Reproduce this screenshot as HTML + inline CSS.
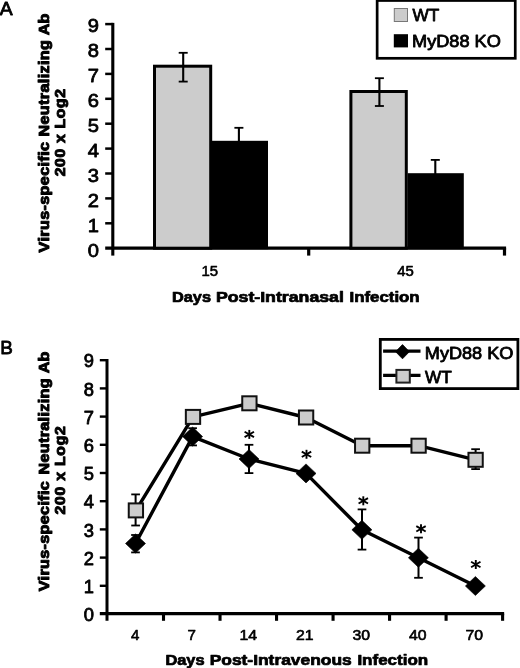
<!DOCTYPE html>
<html><head><meta charset="utf-8"><title>Figure</title>
<style>html,body{margin:0;padding:0;background:#fff;}body{width:520px;height:668px;overflow:hidden;}svg{display:block;will-change:transform;}text{font-family:"Liberation Sans",sans-serif;fill:#000;stroke:#000;stroke-linejoin:round;}</style>
</head><body>
<svg width="520" height="668" viewBox="0 0 520 668">
<rect x="0" y="0" width="520" height="668" fill="#fff"/>
<text x="-0.30" y="14.60" font-size="18.8" text-anchor="start" stroke-width="0.8" textLength="12.90" lengthAdjust="spacingAndGlyphs">A</text>
<g stroke="#000" stroke-width="2.5" fill="none" stroke-linecap="butt">
<line x1="112.80" y1="22.85" x2="112.80" y2="255.60" stroke-width="3.1"/>
<line x1="105.20" y1="248.05" x2="506.10" y2="248.05" stroke-width="3.3"/>
<line x1="105.20" y1="223.30" x2="112.80" y2="223.30"/>
<line x1="105.20" y1="198.40" x2="112.80" y2="198.40"/>
<line x1="105.20" y1="173.50" x2="112.80" y2="173.50"/>
<line x1="105.20" y1="148.60" x2="112.80" y2="148.60"/>
<line x1="105.20" y1="123.70" x2="112.80" y2="123.70"/>
<line x1="105.20" y1="98.80" x2="112.80" y2="98.80"/>
<line x1="105.20" y1="73.90" x2="112.80" y2="73.90"/>
<line x1="105.20" y1="49.00" x2="112.80" y2="49.00"/>
<line x1="105.20" y1="24.10" x2="112.80" y2="24.10"/>
<line x1="308.70" y1="248.05" x2="308.70" y2="255.60" stroke-width="3.2"/>
<line x1="504.50" y1="248.05" x2="504.50" y2="255.60" stroke-width="3.2"/>
</g>
<text x="98.90" y="256.50" font-size="19.2" text-anchor="end" stroke-width="0.8" textLength="11.20" lengthAdjust="spacingAndGlyphs">0</text>
<text x="98.90" y="231.60" font-size="19.2" text-anchor="end" stroke-width="0.8" textLength="11.20" lengthAdjust="spacingAndGlyphs">1</text>
<text x="98.90" y="206.70" font-size="19.2" text-anchor="end" stroke-width="0.8" textLength="11.20" lengthAdjust="spacingAndGlyphs">2</text>
<text x="98.90" y="181.80" font-size="19.2" text-anchor="end" stroke-width="0.8" textLength="11.20" lengthAdjust="spacingAndGlyphs">3</text>
<text x="98.90" y="156.90" font-size="19.2" text-anchor="end" stroke-width="0.8" textLength="11.20" lengthAdjust="spacingAndGlyphs">4</text>
<text x="98.90" y="132.00" font-size="19.2" text-anchor="end" stroke-width="0.8" textLength="11.20" lengthAdjust="spacingAndGlyphs">5</text>
<text x="98.90" y="107.10" font-size="19.2" text-anchor="end" stroke-width="0.8" textLength="11.20" lengthAdjust="spacingAndGlyphs">6</text>
<text x="98.90" y="82.20" font-size="19.2" text-anchor="end" stroke-width="0.8" textLength="11.20" lengthAdjust="spacingAndGlyphs">7</text>
<text x="98.90" y="57.30" font-size="19.2" text-anchor="end" stroke-width="0.8" textLength="11.20" lengthAdjust="spacingAndGlyphs">8</text>
<text x="98.90" y="32.40" font-size="19.2" text-anchor="end" stroke-width="0.8" textLength="11.20" lengthAdjust="spacingAndGlyphs">9</text>
<rect x="154.50" y="66.20" width="56.20" height="182.00" fill="#cccccc" stroke="#000" stroke-width="3"/>
<rect x="212.00" y="140.80" width="56.00" height="108.40" fill="#000"/>
<rect x="350.90" y="91.50" width="55.40" height="156.70" fill="#cccccc" stroke="#000" stroke-width="3"/>
<rect x="407.60" y="173.20" width="56.20" height="76.00" fill="#000"/>
<g stroke="#000" stroke-width="2.1" fill="none"><line x1="183.20" y1="52.80" x2="183.20" y2="81.60"/>
<line x1="178.70" y1="52.80" x2="187.70" y2="52.80" stroke-width="1.8"/>
<line x1="178.70" y1="81.60" x2="187.70" y2="81.60" stroke-width="1.8"/></g>
<g stroke="#000" stroke-width="2.1" fill="none"><line x1="238.90" y1="127.80" x2="238.90" y2="142.00"/>
<line x1="234.40" y1="127.80" x2="243.40" y2="127.80" stroke-width="1.8"/></g>
<g stroke="#000" stroke-width="2.1" fill="none"><line x1="379.40" y1="78.20" x2="379.40" y2="106.00"/>
<line x1="374.90" y1="78.20" x2="383.90" y2="78.20" stroke-width="1.8"/>
<line x1="374.90" y1="106.00" x2="383.90" y2="106.00" stroke-width="1.8"/></g>
<g stroke="#000" stroke-width="2.1" fill="none"><line x1="435.30" y1="159.90" x2="435.30" y2="175.00"/>
<line x1="430.80" y1="159.90" x2="439.80" y2="159.90" stroke-width="1.8"/></g>
<text x="209.70" y="275.60" font-size="14.6" text-anchor="middle" stroke-width="0.6" textLength="16.60" lengthAdjust="spacingAndGlyphs">15</text>
<text x="405.50" y="275.60" font-size="14.6" text-anchor="middle" stroke-width="0.6" textLength="16.60" lengthAdjust="spacingAndGlyphs">45</text>
<text x="172.00" y="302.00" font-size="14.2" text-anchor="start" stroke-width="0.7" font-weight="bold" textLength="39.00" lengthAdjust="spacingAndGlyphs">Days</text>
<text x="215.90" y="302.00" font-size="14.2" text-anchor="start" stroke-width="0.7" font-weight="bold" textLength="128.00" lengthAdjust="spacingAndGlyphs">Post-Intranasal</text>
<text x="349.60" y="302.00" font-size="14.2" text-anchor="start" stroke-width="0.7" font-weight="bold" textLength="70.00" lengthAdjust="spacingAndGlyphs">Infection</text>
<g transform="translate(48.70,252.40) rotate(-90) scale(1.1,1)">
<text x="0" y="0" font-size="14.7" font-weight="bold" stroke-width="0.95" textLength="100.36" lengthAdjust="spacing">Virus-specific</text>
</g>
<g transform="translate(48.70,136.60) rotate(-90) scale(1.1,1)">
<text x="0" y="0" font-size="14.7" font-weight="bold" stroke-width="0.95" textLength="87.82" lengthAdjust="spacing">Neutralizing</text>
</g>
<g transform="translate(48.70,35.20) rotate(-90) scale(1.1,1)">
<text x="0" y="0" font-size="14.7" font-weight="bold" stroke-width="0.95" textLength="19.64" lengthAdjust="spacing">Ab</text>
</g>
<g transform="translate(65.30,176.30) rotate(-90) scale(1.1,1)">
<text x="0" y="0" font-size="14.3" font-weight="bold" stroke-width="0.95" textLength="79.45" lengthAdjust="spacing">200 x Log2</text>
</g>
<rect x="377.15" y="0.5" width="138.1" height="57.8" fill="#fff" stroke="#000" stroke-width="2.7"/>
<rect x="394.3" y="8.5" width="13.2" height="13" fill="#cccccc" stroke="#777" stroke-width="1"/>
<rect x="393.8" y="34.2" width="14.2" height="13.2" fill="#000"/>
<text x="412.60" y="21.40" font-size="16.5" text-anchor="start" stroke-width="0.8" textLength="26.80" lengthAdjust="spacingAndGlyphs">WT</text>
<text x="412.00" y="46.80" font-size="16.5" text-anchor="start" stroke-width="0.8" textLength="88.80" lengthAdjust="spacingAndGlyphs">MyD88 KO</text>
<text x="0.20" y="354.10" font-size="18.9" text-anchor="start" stroke-width="0.8" textLength="12.60" lengthAdjust="spacingAndGlyphs">B</text>
<g stroke="#000" stroke-width="2.4" fill="none" stroke-linecap="butt">
<line x1="107.00" y1="359.00" x2="107.00" y2="620.80" stroke-width="3"/>
<line x1="99.80" y1="613.60" x2="504.15" y2="613.60" stroke-width="3.4"/>
<line x1="99.80" y1="585.80" x2="107.00" y2="585.80"/>
<line x1="99.80" y1="557.60" x2="107.00" y2="557.60"/>
<line x1="99.80" y1="529.40" x2="107.00" y2="529.40"/>
<line x1="99.80" y1="501.20" x2="107.00" y2="501.20"/>
<line x1="99.80" y1="473.00" x2="107.00" y2="473.00"/>
<line x1="99.80" y1="444.80" x2="107.00" y2="444.80"/>
<line x1="99.80" y1="416.60" x2="107.00" y2="416.60"/>
<line x1="99.80" y1="388.40" x2="107.00" y2="388.40"/>
<line x1="99.80" y1="360.20" x2="107.00" y2="360.20"/>
<line x1="163.51" y1="613.60" x2="163.51" y2="620.80" stroke-width="3.1"/>
<line x1="220.03" y1="613.60" x2="220.03" y2="620.80" stroke-width="3.1"/>
<line x1="276.54" y1="613.60" x2="276.54" y2="620.80" stroke-width="3.1"/>
<line x1="333.06" y1="613.60" x2="333.06" y2="620.80" stroke-width="3.1"/>
<line x1="389.57" y1="613.60" x2="389.57" y2="620.80" stroke-width="3.1"/>
<line x1="446.09" y1="613.60" x2="446.09" y2="620.80" stroke-width="3.1"/>
<line x1="502.60" y1="613.60" x2="502.60" y2="620.80" stroke-width="3.1"/>
</g>
<text x="94.00" y="621.20" font-size="18" text-anchor="end" stroke-width="0.8" textLength="10.20" lengthAdjust="spacingAndGlyphs">0</text>
<text x="94.00" y="593.00" font-size="18" text-anchor="end" stroke-width="0.8" textLength="10.20" lengthAdjust="spacingAndGlyphs">1</text>
<text x="94.00" y="564.80" font-size="18" text-anchor="end" stroke-width="0.8" textLength="10.20" lengthAdjust="spacingAndGlyphs">2</text>
<text x="94.00" y="536.60" font-size="18" text-anchor="end" stroke-width="0.8" textLength="10.20" lengthAdjust="spacingAndGlyphs">3</text>
<text x="94.00" y="508.40" font-size="18" text-anchor="end" stroke-width="0.8" textLength="10.20" lengthAdjust="spacingAndGlyphs">4</text>
<text x="94.00" y="480.20" font-size="18" text-anchor="end" stroke-width="0.8" textLength="10.20" lengthAdjust="spacingAndGlyphs">5</text>
<text x="94.00" y="452.00" font-size="18" text-anchor="end" stroke-width="0.8" textLength="10.20" lengthAdjust="spacingAndGlyphs">6</text>
<text x="94.00" y="423.80" font-size="18" text-anchor="end" stroke-width="0.8" textLength="10.20" lengthAdjust="spacingAndGlyphs">7</text>
<text x="94.00" y="395.60" font-size="18" text-anchor="end" stroke-width="0.8" textLength="10.20" lengthAdjust="spacingAndGlyphs">8</text>
<text x="94.00" y="367.40" font-size="18" text-anchor="end" stroke-width="0.8" textLength="10.20" lengthAdjust="spacingAndGlyphs">9</text>
<text x="135.26" y="639.90" font-size="14.4" text-anchor="middle" stroke-width="0.6" textLength="8.40" lengthAdjust="spacingAndGlyphs">4</text>
<text x="191.77" y="639.90" font-size="14.4" text-anchor="middle" stroke-width="0.6" textLength="8.40" lengthAdjust="spacingAndGlyphs">7</text>
<text x="248.29" y="639.90" font-size="14.4" text-anchor="middle" stroke-width="0.6" textLength="17.60" lengthAdjust="spacingAndGlyphs">14</text>
<text x="304.80" y="639.90" font-size="14.4" text-anchor="middle" stroke-width="0.6" textLength="17.60" lengthAdjust="spacingAndGlyphs">21</text>
<text x="361.31" y="639.90" font-size="14.4" text-anchor="middle" stroke-width="0.6" textLength="17.60" lengthAdjust="spacingAndGlyphs">30</text>
<text x="417.83" y="639.90" font-size="14.4" text-anchor="middle" stroke-width="0.6" textLength="17.60" lengthAdjust="spacingAndGlyphs">40</text>
<text x="474.34" y="639.90" font-size="14.4" text-anchor="middle" stroke-width="0.6" textLength="17.60" lengthAdjust="spacingAndGlyphs">70</text>
<text x="165.40" y="665.30" font-size="14.3" text-anchor="start" stroke-width="0.7" font-weight="bold" textLength="39.20" lengthAdjust="spacingAndGlyphs">Days</text>
<text x="209.70" y="665.30" font-size="14.3" text-anchor="start" stroke-width="0.7" font-weight="bold" textLength="142.00" lengthAdjust="spacingAndGlyphs">Post-Intravenous</text>
<text x="357.40" y="665.30" font-size="14.3" text-anchor="start" stroke-width="0.7" font-weight="bold" textLength="70.80" lengthAdjust="spacingAndGlyphs">Infection</text>
<g transform="translate(48.70,591.20) rotate(-90) scale(1.1,1)">
<text x="0" y="0" font-size="14.7" font-weight="bold" stroke-width="0.95" textLength="100.00" lengthAdjust="spacing">Virus-specific</text>
</g>
<g transform="translate(48.70,474.60) rotate(-90) scale(1.1,1)">
<text x="0" y="0" font-size="14.7" font-weight="bold" stroke-width="0.95" textLength="87.45" lengthAdjust="spacing">Neutralizing</text>
</g>
<g transform="translate(48.70,373.20) rotate(-90) scale(1.1,1)">
<text x="0" y="0" font-size="14.7" font-weight="bold" stroke-width="0.95" textLength="19.64" lengthAdjust="spacing">Ab</text>
</g>
<g transform="translate(65.30,514.40) rotate(-90) scale(1.1,1)">
<text x="0" y="0" font-size="14.3" font-weight="bold" stroke-width="0.95" textLength="80.18" lengthAdjust="spacing">200 x Log2</text>
</g>
<g stroke="#000" stroke-width="2" fill="none"><line x1="135.60" y1="494.40" x2="135.60" y2="525.50"/>
<line x1="131.25" y1="494.40" x2="139.95" y2="494.40" stroke-width="1.8"/>
<line x1="131.25" y1="525.50" x2="139.95" y2="525.50" stroke-width="1.8"/></g>
<g stroke="#000" stroke-width="2" fill="none"><line x1="475.60" y1="449.20" x2="475.60" y2="469.10"/>
<line x1="471.25" y1="449.20" x2="479.95" y2="449.20" stroke-width="1.8"/>
<line x1="471.25" y1="469.10" x2="479.95" y2="469.10" stroke-width="1.8"/></g>
<g stroke="#000" stroke-width="2" fill="none"><line x1="135.50" y1="535.00" x2="135.50" y2="552.40"/>
<line x1="131.15" y1="535.00" x2="139.85" y2="535.00" stroke-width="1.8"/>
<line x1="131.15" y1="552.40" x2="139.85" y2="552.40" stroke-width="1.8"/></g>
<g stroke="#000" stroke-width="2" fill="none"><line x1="192.60" y1="428.20" x2="192.60" y2="445.40"/>
<line x1="188.25" y1="428.20" x2="196.95" y2="428.20" stroke-width="1.8"/>
<line x1="188.25" y1="445.40" x2="196.95" y2="445.40" stroke-width="1.8"/></g>
<g stroke="#000" stroke-width="2" fill="none"><line x1="249.00" y1="444.80" x2="249.00" y2="473.10"/>
<line x1="244.65" y1="444.80" x2="253.35" y2="444.80" stroke-width="1.8"/>
<line x1="244.65" y1="473.10" x2="253.35" y2="473.10" stroke-width="1.8"/></g>
<g stroke="#000" stroke-width="2" fill="none"><line x1="362.00" y1="509.40" x2="362.00" y2="549.60"/>
<line x1="357.65" y1="509.40" x2="366.35" y2="509.40" stroke-width="1.8"/>
<line x1="357.65" y1="549.60" x2="366.35" y2="549.60" stroke-width="1.8"/></g>
<g stroke="#000" stroke-width="2" fill="none"><line x1="418.50" y1="537.60" x2="418.50" y2="577.80"/>
<line x1="414.15" y1="537.60" x2="422.85" y2="537.60" stroke-width="1.8"/>
<line x1="414.15" y1="577.80" x2="422.85" y2="577.80" stroke-width="1.8"/></g>
<polyline points="135.90,510.40 193.00,416.90 249.40,403.30 306.10,417.50 362.20,445.70 418.60,445.70 475.60,459.80" fill="none" stroke="#000" stroke-width="3.4" stroke-linejoin="round"/>
<polyline points="135.50,543.50 192.60,436.60 249.00,459.00 306.00,473.40 361.90,529.80 418.40,557.80 475.40,586.00" fill="none" stroke="#000" stroke-width="3.4" stroke-linejoin="round"/>
<rect x="128.75" y="503.40" width="14.3" height="14.0" fill="#cccccc" stroke="#111" stroke-width="2"/>
<rect x="185.85" y="409.90" width="14.3" height="14.0" fill="#cccccc" stroke="#111" stroke-width="2"/>
<rect x="242.25" y="396.30" width="14.3" height="14.0" fill="#cccccc" stroke="#111" stroke-width="2"/>
<rect x="298.95" y="410.50" width="14.3" height="14.0" fill="#cccccc" stroke="#111" stroke-width="2"/>
<rect x="355.05" y="438.70" width="14.3" height="14.0" fill="#cccccc" stroke="#111" stroke-width="2"/>
<rect x="411.45" y="438.70" width="14.3" height="14.0" fill="#cccccc" stroke="#111" stroke-width="2"/>
<rect x="468.45" y="452.80" width="14.3" height="14.0" fill="#cccccc" stroke="#111" stroke-width="2"/>
<polygon points="135.50,534.00 145.50,543.50 135.50,553.00 125.50,543.50" fill="#000" stroke="#000" stroke-width="0.6" stroke-linejoin="round"/>
<polygon points="192.60,427.10 202.60,436.60 192.60,446.10 182.60,436.60" fill="#000" stroke="#000" stroke-width="0.6" stroke-linejoin="round"/>
<polygon points="249.00,449.50 259.00,459.00 249.00,468.50 239.00,459.00" fill="#000" stroke="#000" stroke-width="0.6" stroke-linejoin="round"/>
<polygon points="306.00,463.90 316.00,473.40 306.00,482.90 296.00,473.40" fill="#000" stroke="#000" stroke-width="0.6" stroke-linejoin="round"/>
<polygon points="361.90,520.30 371.90,529.80 361.90,539.30 351.90,529.80" fill="#000" stroke="#000" stroke-width="0.6" stroke-linejoin="round"/>
<polygon points="418.40,548.30 428.40,557.80 418.40,567.30 408.40,557.80" fill="#000" stroke="#000" stroke-width="0.6" stroke-linejoin="round"/>
<polygon points="475.40,576.50 485.40,586.00 475.40,595.50 465.40,586.00" fill="#000" stroke="#000" stroke-width="0.6" stroke-linejoin="round"/>
<g stroke="#000" stroke-width="1.9" stroke-linecap="butt">
<line x1="249.30" y1="429.90" x2="249.30" y2="438.90"/>
<line x1="244.60" y1="431.70" x2="254.00" y2="437.10"/>
<line x1="244.60" y1="437.10" x2="254.00" y2="431.70"/>
</g>
<g stroke="#000" stroke-width="1.9" stroke-linecap="butt">
<line x1="306.50" y1="449.80" x2="306.50" y2="458.80"/>
<line x1="301.80" y1="451.60" x2="311.20" y2="457.00"/>
<line x1="301.80" y1="457.00" x2="311.20" y2="451.60"/>
</g>
<g stroke="#000" stroke-width="1.9" stroke-linecap="butt">
<line x1="363.30" y1="496.30" x2="363.30" y2="505.30"/>
<line x1="358.60" y1="498.10" x2="368.00" y2="503.50"/>
<line x1="358.60" y1="503.50" x2="368.00" y2="498.10"/>
</g>
<g stroke="#000" stroke-width="1.9" stroke-linecap="butt">
<line x1="421.00" y1="524.30" x2="421.00" y2="533.30"/>
<line x1="416.30" y1="526.10" x2="425.70" y2="531.50"/>
<line x1="416.30" y1="531.50" x2="425.70" y2="526.10"/>
</g>
<g stroke="#000" stroke-width="1.9" stroke-linecap="butt">
<line x1="475.80" y1="560.00" x2="475.80" y2="569.00"/>
<line x1="471.10" y1="561.80" x2="480.50" y2="567.20"/>
<line x1="471.10" y1="567.20" x2="480.50" y2="561.80"/>
</g>
<rect x="380.3" y="339.4" width="137.6" height="49.2" fill="#fff" stroke="#000" stroke-width="2.8"/>
<line x1="383.1" y1="351.1" x2="420.5" y2="351.1" stroke="#000" stroke-width="3.2"/>
<polygon points="402.5,344.6 409.4,351.7 402.5,358.8 395.6,351.7" fill="#000" stroke="#000" stroke-width="0.8" stroke-linejoin="round"/>
<line x1="383.1" y1="375.4" x2="420.5" y2="375.4" stroke="#000" stroke-width="3.2"/>
<rect x="396.4" y="369.9" width="13.4" height="12.7" fill="#cccccc" stroke="#222" stroke-width="2"/>
<text x="424.80" y="358.80" font-size="16.5" text-anchor="start" stroke-width="0.8" textLength="88.60" lengthAdjust="spacingAndGlyphs">MyD88 KO</text>
<text x="425.10" y="383.00" font-size="16.5" text-anchor="start" stroke-width="0.8" textLength="26.80" lengthAdjust="spacingAndGlyphs">WT</text>
</svg>
</body></html>
